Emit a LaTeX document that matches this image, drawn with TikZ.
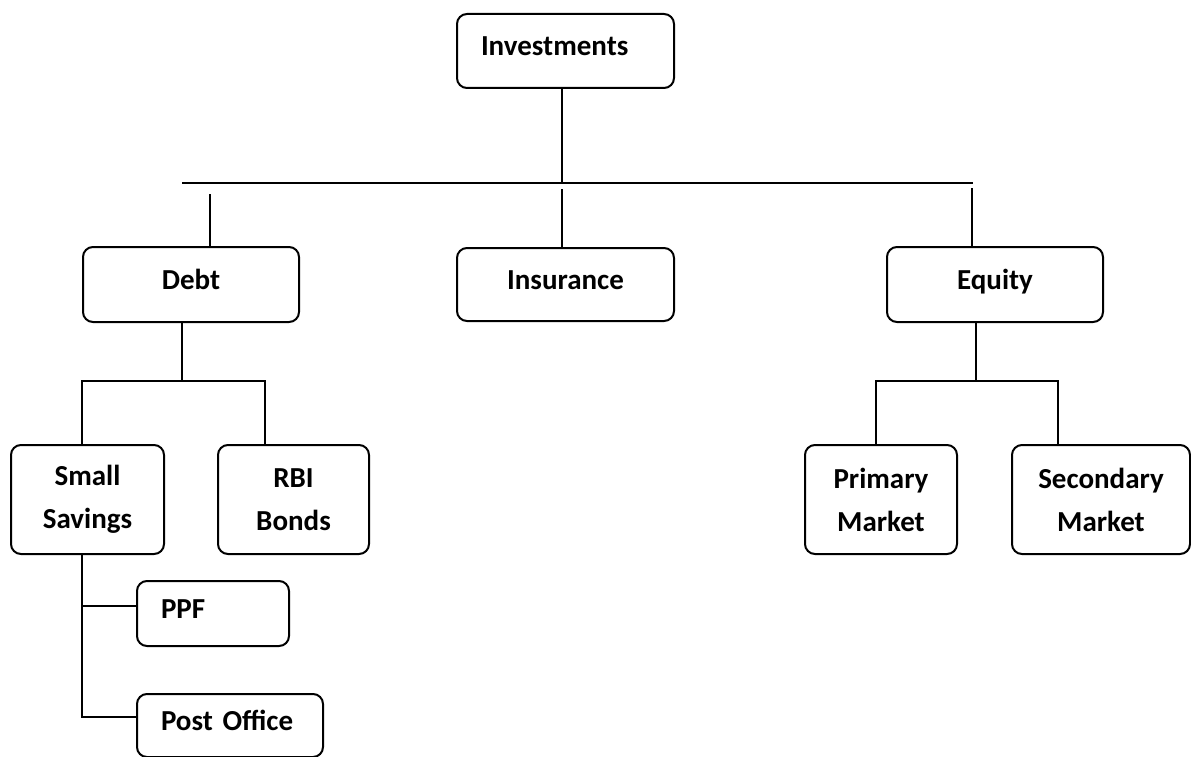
\documentclass[tikz,border=0pt]{standalone}
\usepackage{fontspec}
\setmainfont{Carlito}
\begin{document}
\begin{tikzpicture}[x=1pt,y=-1pt,line width=2pt,
  box/.style={draw, rounded corners=10pt, inner sep=0pt, align=center,
    font=\bfseries\fontsize{29}{43}\selectfont, anchor=north west},
  oneline/.style={text height=20pt, text depth=10.3pt}]
\useasboundingbox (0,0) rectangle (1191,757);
% boxes
\node[box,oneline,minimum width=217pt,minimum height=74pt,text width=169pt,align=left] (inv) at (456,13) {\mbox{Investments}};
\node[box,oneline,minimum width=217pt,minimum height=73pt] (ins) at (456,247) {Insurance};
\node[box,oneline,minimum width=216pt,minimum height=75pt] (debt) at (82,246) {Debt};
\node[box,oneline,minimum width=216pt,minimum height=75pt] (eq) at (886,246) {Equity};
\node[box,minimum width=153pt,minimum height=109pt] (ss) at (10,444) {Small\\Savings};
\node[box,minimum width=151pt,minimum height=109pt] (rbi) at (217,444) {RBI\\Bonds};
\node[box,minimum width=152pt,minimum height=109pt] (pm) at (804,444) {Primary\\Market};
\node[box,minimum width=178pt,minimum height=109pt] (sm) at (1011,444) {Secondary\\Market};
\node[box,oneline,minimum width=152pt,minimum height=65pt,text width=104pt,align=left] (ppf) at (136,580) {\mbox{PPF}};
\node[box,oneline,minimum width=186pt,minimum height=63pt,text width=138pt,align=left] (po) at (136,693) {\mbox{Post Office}};
% top level connectors
\coordinate (c0) at (562,182.5);
\coordinate (hL) at (182,182.5);
\coordinate (hR) at (973,182.5);
\draw (c0 |- inv.south) -- (c0);
\draw (hL) -- (hR);
\coordinate (t1) at (210,194);
\coordinate (t2) at (562,189);
\coordinate (t3) at (972,188);
\draw (t1) -- (t1 |- debt.north);
\draw (t2) -- (t2 |- ins.north);
\draw (t3) -- (t3 |- eq.north);
% debt branch
\coordinate (j1) at (182,381);
\coordinate (j1a) at (82,381);
\coordinate (j1b) at (265,381);
\draw (j1 |- debt.south) -- (j1);
\draw (j1a |- ss.north) -- (j1a) -- (j1b) -- (j1b |- rbi.north);
% equity branch
\coordinate (j2) at (976,381);
\coordinate (j2a) at (876,381);
\coordinate (j2b) at (1058,381);
\draw (j2 |- eq.south) -- (j2);
\draw (j2a |- pm.north) -- (j2a) -- (j2b) -- (j2b |- sm.north);
% small savings branch
\coordinate (s1) at (82,606);
\coordinate (s2) at (82,717);
\draw (s1 |- ss.south) -- (s2) -- (s2 -| po.west);
\draw (s1) -- (s1 -| ppf.west);
\end{tikzpicture}
\end{document}
